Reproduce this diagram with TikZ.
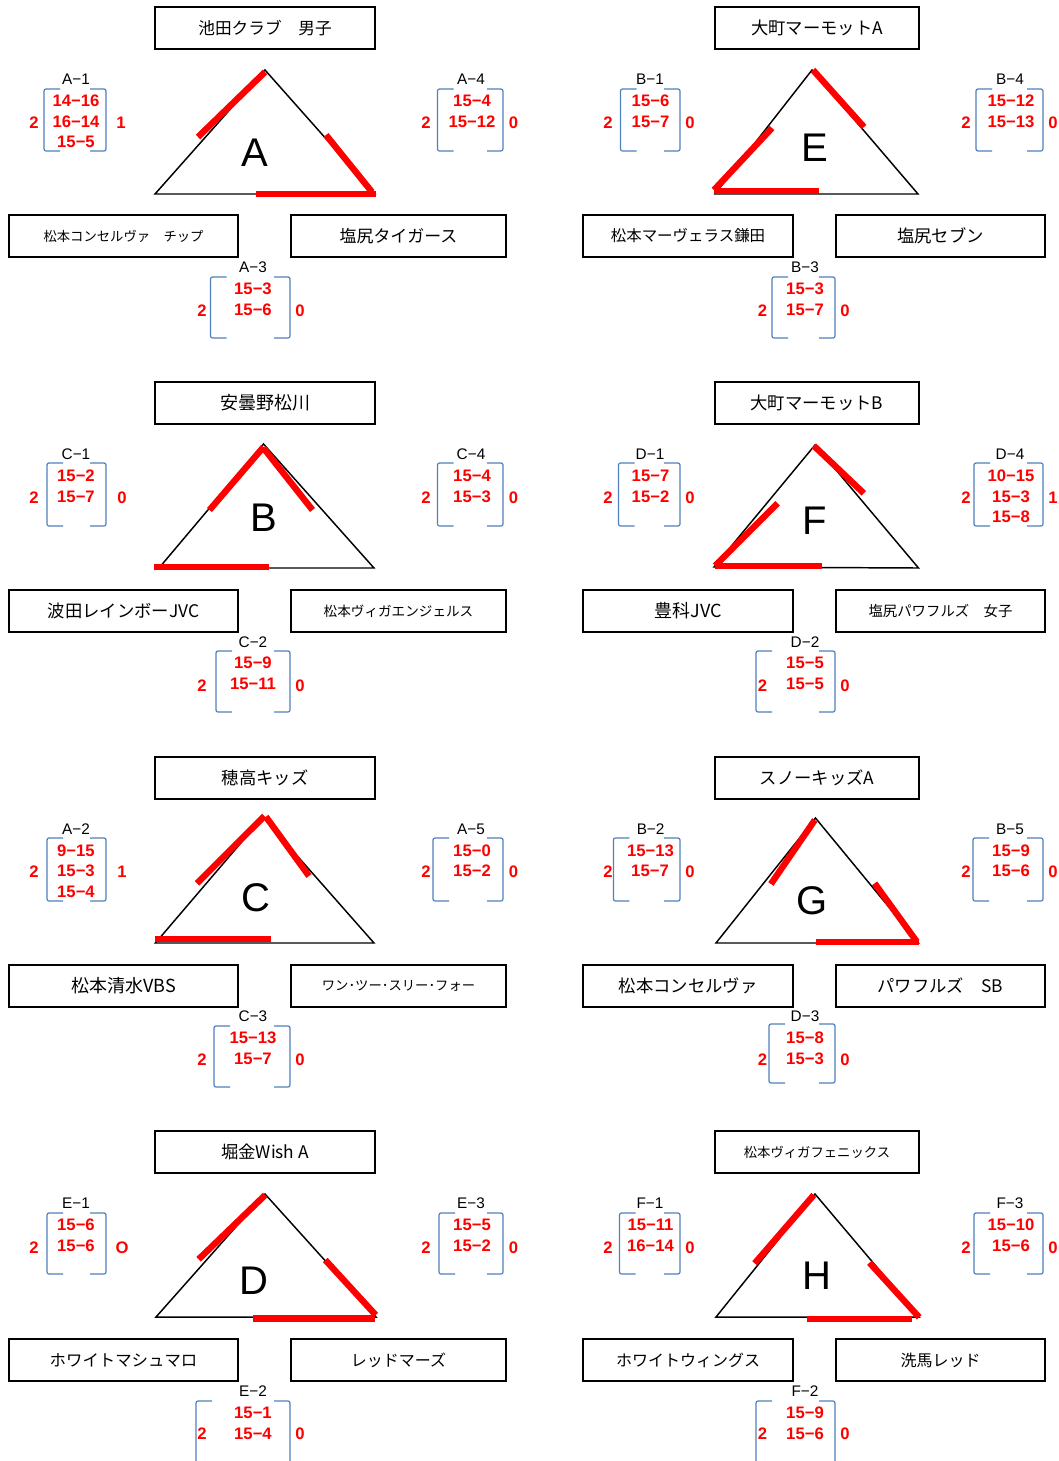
\documentclass[tikz,border=0pt]{standalone}
\usepackage{fontspec}
\setmainfont{Liberation Sans}
\newfontfamily\cjk{Noto Sans CJK JP}
\definecolor{brkblue}{RGB}{79,129,189}
\definecolor{winred}{RGB}{255,0,0}
\tikzset{
  tbox/.style={draw=black, line width=1.5pt, inner sep=0pt, outer sep=0pt, font=\cjk\fontsize{13}{15}\selectfont},
  tri/.style={draw=black, line width=1.1pt},
  win/.style={draw=winred, line width=4.8pt},
  brk/.style={draw=brkblue, line width=0.9pt, rounded corners=1.5pt},
  lab/.style={inner sep=0pt, text height=8.2pt, text depth=0pt, font=\fontsize{11.5}{13}\selectfont},
  sc/.style={inner sep=0pt, text height=9pt, text depth=0pt, text=winred, font=\bfseries\fontsize{12.5}{14}\selectfont},
  bigl/.style={inner sep=0pt, text height=21.5pt, text depth=0pt, font=\fontsize{30}{34}\selectfont},
}
\newcommand\tbx[7]{\node[tbox, minimum width={(#4-#2)*0.75pt}, minimum height={(#5-#3)*0.75pt}, #6] (#1) at ({(#2+#4)/2},{(#3+#5)/2}) {#7};}
\newcommand\brk[4]{%
  \draw[brk] (#1+16,#3) -- (#1,#3) -- (#1,#4) -- (#1+16,#4);
  \draw[brk] (#2-16,#3) -- (#2,#3) -- (#2,#4) -- (#2-16,#4);}
\begin{document}
\begin{tikzpicture}[x=0.75pt,y=-0.75pt]
\useasboundingbox[fill=white] (0,0) rectangle (1059,1461);

%================ ROW 0 ================
\begin{scope}
% --- panel A
\tbx{tA}{155}{7}{375}{49}{font=\cjk\fontsize{12.5}{15}\selectfont}{池田クラブ　男子}
\tbx{blA}{9}{215}{238}{257}{font=\cjk\fontsize{10}{12}\selectfont}{松本コンセルヴァ　チップ}
\tbx{brA}{291}{215}{506}{257}{font=\cjk\fontsize{12.7}{15}\selectfont}{塩尻タイガース}
\coordinate (Aa) at (265,70); \coordinate (Ab) at (155,194); \coordinate (Ac) at (375,194);
\draw[tri] (Aa) -- (Ab) -- (Ac) -- cycle;
\node[bigl] (LA) at (255,152) {A};
\draw[win] (265,72) -- (198,137);
\draw[win] (326,135) -- (372,192);
\draw[win] (256,194) -- (376,194);
\node[lab] (gA1) at (76,79) {A−1}; \brk{44}{106}{89}{151}
\node[sc] (gA1s1) at (76,100.5) {14−16}; \node[sc] (gA1s2) at (76,121) {16−14}; \node[sc] (gA1s3) at (76,141.5) {15−5};
\node[sc] (gA1l) at (34,122) {2}; \node[sc] (gA1r) at (121,122) {1};
\node[lab] (gA4) at (471,79) {A−4}; \brk{437.5}{503}{89}{151}
\node[sc] (gA4s1) at (472,100.5) {15−4}; \node[sc] (gA4s2) at (472,121) {15−12};
\node[sc] (gA4l) at (426,122) {2}; \node[sc] (gA4r) at (513.5,122) {0};
\node[lab] (gA3) at (253,267) {A−3}; \brk{210.5}{290}{277}{338}
\node[sc] (gA3s1) at (253,288) {15−3}; \node[sc] (gA3s2) at (253,309) {15−6};
\node[sc] (gA3l) at (202,310) {2}; \node[sc] (gA3r) at (300,310) {0};
% --- panel E
\tbx{tE}{715}{7}{919}{49}{}{大町マーモットA}
\tbx{blE}{583}{215}{793}{257}{font=\cjk\fontsize{11.6}{14}\selectfont}{松本マーヴェラス鎌田}
\tbx{brE}{836}{215}{1045}{257}{}{塩尻セブン}
\coordinate (Ea) at (812,70); \coordinate (Eb) at (715,194); \coordinate (Ec) at (918,194);
\draw[tri] (Ea) -- (Eb) -- (Ec) -- cycle;
\node[bigl] (LE) at (815,147) {E};
\draw[win] (714,190) -- (772,128);
\draw[win] (714,191) -- (819,191);
\draw[win] (813,70) -- (864,127);
\node[lab] (gB1) at (650,79) {B−1}; \brk{620.5}{680}{89}{151}
\node[sc] (gB1s1) at (650.5,100.5) {15−6}; \node[sc] (gB1s2) at (650.5,121) {15−7};
\node[sc] (gB1l) at (608,122) {2}; \node[sc] (gB1r) at (690,122) {0};
\node[lab] (gB4) at (1010,79) {B−4}; \brk{976}{1043}{89}{151}
\node[sc] (gB4s1) at (1011,100.5) {15−12}; \node[sc] (gB4s2) at (1011,121) {15−13};
\node[sc] (gB4l) at (966,122) {2}; \node[sc] (gB4r) at (1053,122) {0};
\node[lab] (gB3) at (805,267) {B−3}; \brk{772}{835}{277}{338}
\node[sc] (gB3s1) at (805,288) {15−3}; \node[sc] (gB3s2) at (805,309) {15−7};
\node[sc] (gB3l) at (762.5,310) {2}; \node[sc] (gB3r) at (845,310) {0};
\end{scope}

%================ ROW 1 ================
\begin{scope}[shift={(0,375)}]
% --- panel B
\tbx{tB}{155}{7}{375}{49}{font=\cjk\fontsize{13.5}{15}\selectfont}{安曇野松川}
\tbx{blB}{9}{215}{238}{257}{}{波田レインボーJVC}
\tbx{brB}{291}{215}{506}{257}{font=\cjk\fontsize{10.2}{12}\selectfont}{松本ヴィガエンジェルス}
\coordinate (Ba) at (263.5,69); \coordinate (Bb) at (159,193); \coordinate (Bc) at (374,193);
\draw[tri] (Ba) -- (Bb) -- (Bc) -- cycle;
\node[bigl] (LB) at (263.5,142) {B};
\draw[win] (209.5,135) -- (263.5,72);
\draw[win] (263.5,73) -- (312.5,135);
\draw[win] (154,192) -- (268.6,192);
\node[lab] (gC1) at (76,79) {C−1}; \brk{47}{106}{88}{151}
\node[sc] (gC1s1) at (76,100.5) {15−2}; \node[sc] (gC1s2) at (76,121) {15−7};
\node[sc] (gC1l) at (34,122) {2}; \node[sc] (gC1r) at (122,122) {0};
\node[lab] (gC4) at (471,79) {C−4}; \brk{437.5}{503}{88}{151}
\node[sc] (gC4s1) at (472,100.5) {15−4}; \node[sc] (gC4s2) at (472,121) {15−3};
\node[sc] (gC4l) at (426,122) {2}; \node[sc] (gC4r) at (513.5,122) {0};
\node[lab] (gC2) at (253,267) {C−2}; \brk{216}{290}{276}{337}
\node[sc] (gC2s1) at (253,287) {15−9}; \node[sc] (gC2s2) at (253,308) {15−11};
\node[sc] (gC2l) at (202,310) {2}; \node[sc] (gC2r) at (300,310) {0};
% --- panel F
\tbx{tF}{715}{7}{919}{49}{}{大町マーモットB}
\tbx{blF}{583}{215}{793}{257}{font=\cjk\fontsize{13.5}{15}\selectfont}{豊科JVC}
\tbx{brF}{836}{215}{1045}{257}{font=\cjk\fontsize{10.8}{13}\selectfont}{塩尻パワフルズ　女子}
\coordinate (Fa) at (815,70); \coordinate (Fb) at (714,192); \coordinate (Fc) at (918.5,193);
\draw[tri] (Fa) -- (Fb) -- (Fc) -- cycle;
\node[bigl] (LF) at (815,145) {F};
\draw[win] (813.8,70.7) -- (863.8,118.3);
\draw[win] (715.2,190.7) -- (777.6,128.3);
\draw[win] (715,190.7) -- (822,190.7);
\node[lab] (gD1) at (650,79) {D−1}; \brk{618.5}{680}{88}{151}
\node[sc] (gD1s1) at (650.5,100.5) {15−7}; \node[sc] (gD1s2) at (650.5,121) {15−2};
\node[sc] (gD1l) at (608,122) {2}; \node[sc] (gD1r) at (690,122) {0};
\node[lab] (gD4) at (1010,79) {D−4}; \brk{974}{1043}{88}{151}
\node[sc] (gD4s1) at (1011,100.5) {10−15}; \node[sc] (gD4s2) at (1011,121) {15−3}; \node[sc] (gD4s3) at (1011,141.5) {15−8};
\node[sc] (gD4l) at (966,122) {2}; \node[sc] (gD4r) at (1053,122) {1};
\node[lab] (gD2) at (805,267) {D−2}; \brk{756}{835}{276}{337}
\node[sc] (gD2s1) at (805,287) {15−5}; \node[sc] (gD2s2) at (805,308) {15−5};
\node[sc] (gD2l) at (762.5,310) {2}; \node[sc] (gD2r) at (845,310) {0};
\end{scope}

%================ ROW 2 ================
\begin{scope}[shift={(0,750)}]
% --- panel C
\tbx{tC}{155}{7}{375}{49}{}{穂高キッズ}
\tbx{blC}{9}{215}{238}{257}{font=\cjk\fontsize{13.5}{15}\selectfont}{松本清水VBS}
\tbx{brC}{291}{215}{506}{257}{font=\cjk\fontsize{10}{12}\selectfont}{ワン･ツー･スリー･フォー}
\coordinate (Ca) at (263,67); \coordinate (Cb) at (155.4,193); \coordinate (Cc) at (374,193);
\draw[tri] (Ca) -- (Cb) -- (Cc) -- cycle;
\node[bigl] (LC) at (256,147) {C};
\draw[win] (197,133.3) -- (264.5,66);
\draw[win] (265.9,66.7) -- (309,126);
\draw[win] (155.4,188.7) -- (271,188.7);
\node[lab] (gA2) at (76,79) {A−2}; \brk{47}{106}{88}{151}
\node[sc] (gA2s1) at (76,100) {9−15}; \node[sc] (gA2s2) at (76,120.5) {15−3}; \node[sc] (gA2s3) at (76,141) {15−4};
\node[sc] (gA2l) at (34,121) {2}; \node[sc] (gA2r) at (122,121) {1};
\node[lab] (gA5) at (471,79) {A−5}; \brk{433}{503}{88}{151}
\node[sc] (gA5s1) at (472,100) {15−0}; \node[sc] (gA5s2) at (472,120.5) {15−2};
\node[sc] (gA5l) at (426,121) {2}; \node[sc] (gA5r) at (513.5,121) {0};
\node[lab] (gC3) at (253,266) {C−3}; \brk{214}{290}{276}{337}
\node[sc] (gC3s1) at (253,287) {15−13}; \node[sc] (gC3s2) at (253,308) {15−7};
\node[sc] (gC3l) at (202,309) {2}; \node[sc] (gC3r) at (300,309) {0};
% --- panel G
\tbx{tG}{715}{7}{919}{49}{}{スノーキッズA}
\tbx{blG}{583}{215}{793}{257}{}{松本コンセルヴァ}
\tbx{brG}{836}{215}{1045}{257}{}{パワフルズ　SB}
\coordinate (Ga) at (815.5,68); \coordinate (Gb) at (716,193); \coordinate (Gc) at (918.5,193);
\draw[tri] (Ga) -- (Gb) -- (Gc) -- cycle;
\node[bigl] (LG) at (812,150) {G};
\draw[win] (814.8,70) -- (770.9,134);
\draw[win] (874.6,133.3) -- (916.8,191.7);
\draw[win] (815.5,191.7) -- (918.5,191.7);
\node[lab] (gB2) at (650.6,79) {B−2}; \brk{613.4}{680}{88}{151}
\node[sc] (gB2s1) at (650.6,100) {15−13}; \node[sc] (gB2s2) at (650,120.5) {15−7};
\node[sc] (gB2l) at (608,121) {2}; \node[sc] (gB2r) at (690,121) {0};
\node[lab] (gB5) at (1010,79) {B−5}; \brk{973}{1043}{88}{151}
\node[sc] (gB5s1) at (1011,100) {15−9}; \node[sc] (gB5s2) at (1011,120.5) {15−6};
\node[sc] (gB5l) at (966,121) {2}; \node[sc] (gB5r) at (1053,121) {0};
\node[lab] (gD3) at (805,266) {D−3}; \brk{769}{835}{274}{333}
\node[sc] (gD3s1) at (805,287) {15−8}; \node[sc] (gD3s2) at (805,308) {15−3};
\node[sc] (gD3l) at (762.5,309) {2}; \node[sc] (gD3r) at (845,309) {0};
\end{scope}

%================ ROW 3 ================
\begin{scope}[shift={(0,1124)}]
% --- panel D
\tbx{tD}{155}{7}{375}{49}{}{堀金Wish A}
\tbx{blD}{9}{215}{238}{257}{font=\cjk\fontsize{12.3}{15}\selectfont}{ホワイトマシュマロ}
\tbx{brD}{291}{215}{506}{257}{font=\cjk\fontsize{12}{15}\selectfont}{レッドマーズ}
\coordinate (Da) at (265,70); \coordinate (Db) at (156,193); \coordinate (Dc) at (376,193);
\draw[tri] (Da) -- (Db) -- (Dc) -- cycle;
\node[bigl] (LD) at (254,156) {D};
\draw[win] (265.2,71) -- (198.6,135.3);
\draw[win] (325.3,136) -- (375.7,191);
\draw[win] (253.4,194.3) -- (375,194.3);
\node[lab] (gE1) at (76,79) {E−1}; \brk{47}{106}{89}{150}
\node[sc] (gE1s1) at (76,100.5) {15−6}; \node[sc] (gE1s2) at (76,121) {15−6};
\node[sc] (gE1l) at (34,123) {2}; \node[sc] (gE1r) at (122,123) {O};
\node[lab] (gE3) at (471,79) {E−3}; \brk{439}{503}{89}{150}
\node[sc] (gE3s1) at (472,100.5) {15−5}; \node[sc] (gE3s2) at (472,121) {15−2};
\node[sc] (gE3l) at (426,123) {2}; \node[sc] (gE3r) at (513.5,123) {0};
\node[lab] (gE2) at (253,267) {E−2}; \brk{196}{290}{277}{350}
\node[sc] (gE2s1) at (253,288) {15−1}; \node[sc] (gE2s2) at (253,309) {15−4};
\node[sc] (gE2l) at (202,309) {2}; \node[sc] (gE2r) at (300,309) {0};
% --- panel H
\tbx{tH}{715}{7}{919}{49}{font=\cjk\fontsize{10}{12}\selectfont}{松本ヴィガフェニックス}
\tbx{blH}{583}{215}{793}{257}{font=\cjk\fontsize{12}{15}\selectfont}{ホワイトウィングス}
\tbx{brH}{836}{215}{1045}{257}{font=\cjk\fontsize{12}{15}\selectfont}{洗馬レッド}
\coordinate (Ha) at (815,70); \coordinate (Hb) at (716,193); \coordinate (Hc) at (919,193);
\draw[tri] (Ha) -- (Hb) -- (Hc) -- cycle;
\node[bigl] (LH) at (816.5,151) {H};
\draw[win] (813.8,71) -- (754.7,139.3);
\draw[win] (869.5,138.7) -- (919.2,193.3);
\draw[win] (807,195) -- (911.8,195);
\node[lab] (gF1) at (650,79) {F−1}; \brk{619.5}{680}{89}{150}
\node[sc] (gF1s1) at (650.5,100.5) {15−11}; \node[sc] (gF1s2) at (650.5,121) {16−14};
\node[sc] (gF1l) at (608,123) {2}; \node[sc] (gF1r) at (690,123) {0};
\node[lab] (gF3) at (1010,79) {F−3}; \brk{974}{1043}{89}{150}
\node[sc] (gF3s1) at (1011,100.5) {15−10}; \node[sc] (gF3s2) at (1011,121) {15−6};
\node[sc] (gF3l) at (966,123) {2}; \node[sc] (gF3r) at (1053,123) {0};
\node[lab] (gF2) at (805,267) {F−2}; \brk{756}{835}{277}{350}
\node[sc] (gF2s1) at (805,288) {15−9}; \node[sc] (gF2s2) at (805,309) {15−6};
\node[sc] (gF2l) at (762.5,309) {2}; \node[sc] (gF2r) at (845,309) {0};
\end{scope}
\end{tikzpicture}
\end{document}
